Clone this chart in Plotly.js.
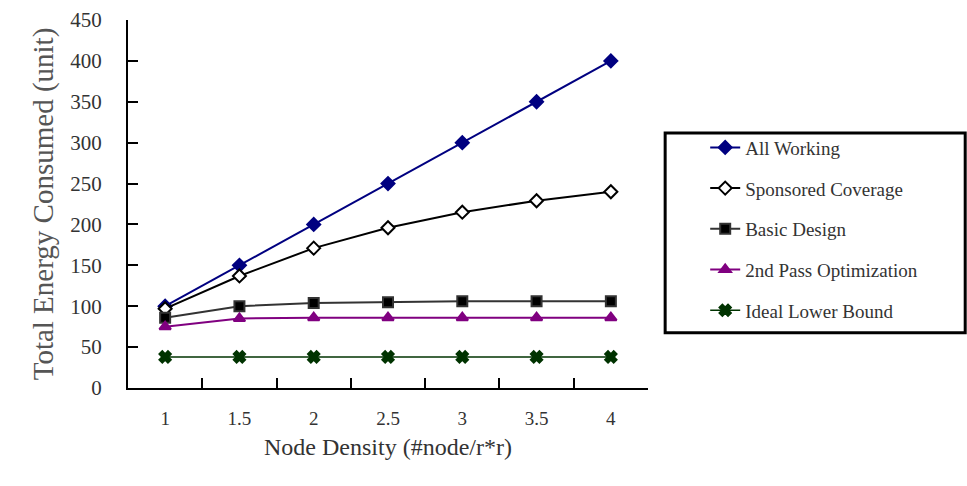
<!DOCTYPE html>
<html><head><meta charset="utf-8">
<script src="https://cdn.plot.ly/plotly-3.0.1.min.js"></script>
<style>body{margin:0;background:#fff}#c{width:967px;height:486px}</style>
</head><body><div id="c"></div>
<script>
const density = ["1","1.5","2","2.5","3","3.5","4"];
const allWorking = [100,150,200,250,300,350,400];
const sponsoredCoverage = [97,137,171,196,215,229,240];
const basicDesign = [86,100,104,105,106,106,106];
const secondPass = [75,85,86,86,86,86,86];
const idealLower = [38,38,38,38,38,38,38];
const seriesNames = ["All Working","Sponsored Coverage","Basic Design","2nd Pass Optimization","Ideal Lower Bound"];
const yTicks = [0,50,100,150,200,250,300,350,400,450];

const serif = "Liberation Serif, Times New Roman, serif";
function tr(name, y, color, sym, mcolor, lw, msize) {
  return {
    type: "scatter", mode: "lines+markers", x: density, y: y, name: name, legendgroup: name,
    line: {color: color, width: lw},
    marker: {symbol: sym, size: msize || 10, color: mcolor, line: {color: color, width: 2}}
  };
}
const data = [
  tr(seriesNames[0], allWorking, "#000080", "diamond", "#000080", 2),
  tr(seriesNames[1], sponsoredCoverage, "#000000", "diamond", "#ffffff", 2),
  tr(seriesNames[2], basicDesign, "#333333", "square", "#000000", 2),
  tr(seriesNames[3], secondPass, "#800080", "triangle-up", "#800080", 2),
  tr(seriesNames[4], idealLower, "#003300", "x", "#003300", 1.5)
];
const layout = {
  width: 967, height: 486,
  margin: {l: 128, r: 319, t: 20, b: 98},
  paper_bgcolor: "#fff", plot_bgcolor: "#fff",
  font: {family: serif, color: "#333"},
  showlegend: true,
  legend: {x: 1.11, xanchor: "left", y: 0.705, yanchor: "top",
           font: {family: serif, size: 19, color: "#333"},
           bgcolor: "rgba(0,0,0,0)", borderwidth: 0, tracegroupgap: 13, traceorder: "grouped"},
  xaxis: {type: "category", range: [-0.5, 6.5], tickson: "boundaries",
          ticks: "inside", ticklen: 10, tickwidth: 2, tickcolor: "#000",
          showline: true, linecolor: "#000", linewidth: 2, showgrid: false, zeroline: false,
          ticklabelstandoff: 12,
          tickfont: {family: serif, size: 19, color: "#333"},
          title: {text: "Node Density (#node/r*r)", font: {family: serif, size: 24, color: "#333"}, standoff: 10}},
  yaxis: {range: [0, 450], tickvals: yTicks, ticktext: yTicks.map(String),
          ticks: "inside", ticklen: 10, tickwidth: 2, tickcolor: "#000",
          showline: true, linecolor: "#000", linewidth: 2, showgrid: false, zeroline: false,
          ticklabelstandoff: 20,
          tickfont: {family: serif, size: 21, color: "#333"},
          title: {text: "Total Energy Consumed (unit)", font: {family: serif, size: 29, color: "#555"}, standoff: 8}},
  shapes: [{type: "rect", xref: "paper", yref: "paper", x0: 1.033, x1: 1.61, y0: 0.15, y1: 0.693,
            line: {color: "#000", width: 3}, fillcolor: "rgba(0,0,0,0)"}]
};
Plotly.newPlot("c", data, layout, {displayModeBar: false});
</script></body></html>
